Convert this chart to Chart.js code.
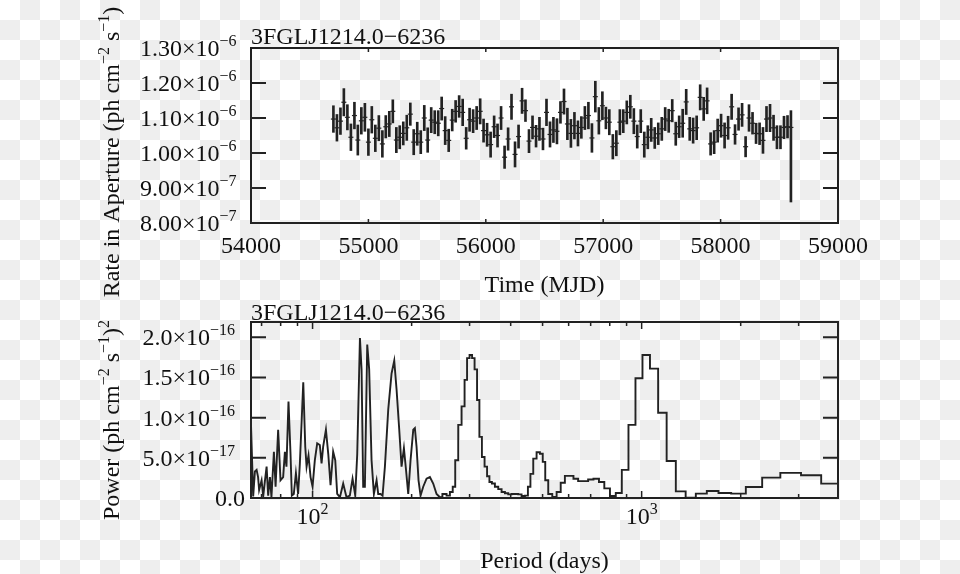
<!DOCTYPE html>
<html>
<head>
<meta charset="utf-8">
<script src="https://cdn.jsdelivr.net/npm/chart.js@4/dist/chart.umd.min.js"></script>
<style>
  html, body { margin: 0; padding: 0; }
  body {
    width: 960px; height: 574px; position: relative; overflow: hidden;
    background-color: #fff;
    background-image: conic-gradient(#eee 0 25%, #fff 0 50%, #eee 0 75%, #fff 0);
    background-size: 40px 40px;
  }
  canvas { position: absolute; left: 0; }
  #lc { top: 0; }
  #pg { top: 300px; }
</style>
</head>
<body>
<canvas id="lc" width="960" height="300"></canvas>
<canvas id="pg" width="960" height="274"></canvas>
<script>
const SOURCE = '3FGLJ1214.0\u22126236';

// light curve: bin centre (MJD), rate in units of 1e-6 ph cm^-2 s^-1, 1 sigma error
const mjd = [
  54702, 54732, 54762, 54791, 54821, 54851, 54881, 54910, 54940, 54970,
  55000, 55029, 55059, 55089, 55119, 55148, 55178, 55208, 55238, 55267,
  55297, 55327, 55357, 55386, 55416, 55446, 55476, 55505, 55535, 55565,
  55595, 55624, 55654, 55684, 55714, 55743, 55773, 55803, 55833, 55862,
  55892, 55922, 55952, 55981, 56011, 56041, 56071, 56100, 56130, 56160,
  56190, 56219, 56249, 56279, 56309, 56338, 56368, 56398, 56428, 56457,
  56487, 56517, 56547, 56576, 56606, 56636, 56666, 56695, 56725, 56755,
  56785, 56814, 56844, 56874, 56904, 56933, 56963, 56993, 57023, 57052,
  57082, 57112, 57142, 57171, 57201, 57231, 57261, 57290, 57320, 57350,
  57380, 57409, 57439, 57469, 57499, 57528, 57558, 57588, 57618, 57647,
  57677, 57707, 57737, 57766, 57796, 57826, 57856, 57885, 57915, 57945,
  57975, 58004, 58034, 58064, 58094, 58123, 58153, 58183, 58213, 58242,
  58272, 58302, 58332, 58361, 58391, 58421, 58451, 58480, 58510, 58540,
  58570, 58599
];
const rate = [
  1.097, 1.072, 1.091, 1.145, 1.102, 1.045, 1.107, 1.037, 1.092, 1.102,
  1.031, 1.095, 1.042, 1.071, 1.026, 1.075, 1.083, 1.119, 1.037, 1.045,
  1.056, 1.072, 1.111, 1.031, 1.055, 1.031, 1.100, 1.037, 1.094, 1.088,
  1.085, 1.127, 1.064, 1.036, 1.094, 1.119, 1.133, 1.116, 1.042, 1.095,
  1.091, 1.100, 1.119, 1.064, 1.052, 1.024, 1.075, 1.050, 1.100, 0.988,
  1.040, 1.132, 0.996, 1.047, 1.149, 1.121, 1.034, 1.073, 1.048, 1.069,
  1.040, 1.116, 1.053, 1.066, 1.062, 1.116, 1.147, 1.083, 1.056, 1.078,
  1.056, 1.073, 1.100, 1.107, 1.043, 1.161, 1.092, 1.135, 1.100, 1.088,
  1.018, 1.028, 1.088, 1.091, 1.116, 1.132, 1.091, 1.047, 1.091, 1.024,
  1.045, 1.066, 1.043, 1.055, 1.069, 1.097, 1.092, 1.121, 1.055, 1.075,
  1.085, 1.146, 1.069, 1.064, 1.072, 1.159, 1.126, 1.149, 1.026, 1.031,
  1.064, 1.078, 1.050, 1.072, 1.132, 1.053, 1.097, 1.109, 1.018, 1.100,
  1.085, 1.056, 1.055, 1.036, 1.097, 1.100, 1.072, 1.045, 1.045, 1.073,
  1.075, 1.073
];
const rateErr = [
  .038, .038, .038, .039, .036, .038, .038, .043, .038, .040,
  .038, .038, .038, .036, .038, .032, .036, .033, .036, .033,
  .033, .036, .032, .036, .033, .033, .036, .035, .036, .033,
  .036, .033, .040, .032, .031, .031, .031, .038, .031, .033,
  .033, .033, .036, .033, .033, .036, .031, .033, .033, .032,
  .032, .036, .036, .033, .036, .031, .033, .033, .031, .033,
  .031, .038, .036, .036, .036, .031, .036, .045, .040, .038,
  .036, .031, .033, .038, .041, .044, .038, .040, .031, .036,
  .035, .036, .036, .033, .033, .033, .036, .033, .033, .036,
  .033, .033, .030, .031, .033, .033, .033, .032, .033, .031,
  .040, .036, .033, .036, .034, .036, .033, .037, .032, .033,
  .033, .033, .036, .033, .036, .028, .032, .033, .029, .038,
  .031, .029, .031, .037, .036, .039, .036, .033, .033, .032,
  .032, .048
];
// the last (partial) bin has a much longer lower error bar
const rateErrDown = rateErr.slice(0, -1).concat([0.213]);

const mjdTicks = [54000, 55000, 56000, 57000, 58000, 59000];
const rateTicks = [0.8, 0.9, 1.0, 1.1, 1.2, 1.3];
const rateTickLabels = [['8.00', '\u22127'], ['9.00', '\u22127'], ['1.00', '\u22126'],
                        ['1.10', '\u22126'], ['1.20', '\u22126'], ['1.30', '\u22126']];

// periodogram: period (days), power in units of 1e-16 (ph cm^-2 s^-1)^2
const periods = [
  65.0, 66.0, 66.8, 67.6, 68.3, 68.8, 70.0, 70.8, 71.6, 72.5,
  73.3, 74.2, 75.0, 76.3, 77.2, 78.6, 79.9, 81.4, 82.4, 83.3,
  84.5, 85.7, 86.5, 87.7, 89.0, 90.4, 91.5, 93.7, 95.0, 95.9,
  97.2, 98.6, 100.0, 101.6, 103.3, 105.2, 106.5, 107.7, 109.8, 111.6,
  113.4, 115.5, 117.2, 118.8, 121.1, 123.9, 126.8, 129.8, 132.3, 134.8,
  136.7, 139.3, 140.9, 142.5, 144.2, 146.6, 148.6, 151.1, 153.6, 156.5,
  158.3, 160.9, 163.2, 165.9, 169.8, 173.8, 177.1, 180.0, 183.4, 186.4,
  189.5, 192.1, 195.3, 198.5, 202.3, 204.6, 207.0, 209.9, 212.9, 216.9,
  222.0, 227.3, 232.6, 238.1, 243.8,
  252.4, 258.4, 264.5, 268.8, 273.9, 280.4, 287.0, 292.4, 297.2, 302.8,
  307.8, 313.6, 318.7, 324.0, 330.1, 336.3, 341.9, 347.5, 354.0, 362.4,
  371.0, 379.7, 388.7, 397.8, 407.2, 416.8, 426.6, 436.7, 447.0, 455.5,
  463.0, 473.9, 485.1, 496.5, 504.7, 514.2, 526.3, 544.0, 559.4, 576.0,
  593.0, 611.3, 630.1, 652.5, 675.8, 699.8, 728.2, 755.9, 784.6, 818.2,
  851.3, 889.9, 934.6, 981.5, 1030.8, 1090.2, 1155.6, 1227.9, 1313.9, 1409.1,
  1514.8, 1643.6, 1783.5, 1962.5, 2189.9, 2466.7, 2824.1, 3294.3, 3745.3, 3951
];
const power = [
  0.91, 0.02, 0.33, 0.35, 0.26, 0.10, 0.22, 0.02, 0.20, 0.39,
  0.03, 0.26, 0.01, 0.575, 0.14, 0.85, 0.22, 0.26, 0.575, 0.39,
  1.20, 0.55, 0.03, 0.05, 0.31, 0.05, 0.43, 1.44, 0.64, 0.39,
  0.53, 0.26, 0.14, 0.47, 0.68, 0.66, 0.43, 0.64, 0.85, 0.55,
  0.16, 0.575, 0.47, 0.05, 0.01, 0.18, 0.01, 0.03, 0.24, 0.03,
  0.55, 1.99, 1.60, 0.14, 0.14, 1.91, 1.60, 0.47, 0.05, 0.22,
  0.05, 0.05, 0.03, 0.39, 1.10, 1.55, 1.71, 1.35, 0.85, 0.39,
  0.62, 0.37, 0.05, 0.47, 0.85, 0.87, 0.64, 0.22, 0.03, 0.14,
  0.24, 0.26, 0.18, 0.05, 0.01,
  0.05, 0.03, 0.075, 0.14, 0.47, 0.91, 1.14, 1.47, 1.74, 1.78,
  1.74, 1.60, 1.22, 0.76, 0.51, 0.39, 0.27, 0.20, 0.18, 0.14,
  0.11, 0.075, 0.06, 0.045, 0.05, 0.05, 0.045, 0.025, 0.03, 0.14,
  0.30, 0.49, 0.57, 0.55, 0.45, 0.22, 0.05, 0.0125, 0.075, 0.19,
  0.275, 0.275, 0.24, 0.21, 0.21, 0.23, 0.24, 0.20, 0.12, 0.025,
  0.0625, 0.35, 0.91, 1.49, 1.78, 1.61, 1.06, 0.46, 0.083, 0.005,
  0.054, 0.0875, 0.0625, 0.054, 0.1375, 0.254, 0.3125, 0.283, 0.179, 0.179
];
const STEP_FROM = 84; // from here on the frequency bins are wide enough to show as steps

const powerTicks = [0, 0.5, 1.0, 1.5, 2.0];
const powerTickLabels = [['0.0', ''], ['5.0', '\u221217'], ['1.0', '\u221216'],
                         ['1.5', '\u221216'], ['2.0', '\u221216']];
const periodMajor = [100, 1000];
const periodMajorExp = ['2', '3'];
const periodMinor = [70, 80, 90, 200, 300, 400, 500, 600, 700, 800, 900, 2000, 3000];

const INK = '#222';
const FONT = '"Liberation Serif", "Times New Roman", serif';
const SIZE = 24, SUP = 16, RISE = 10;

function drawRich(ctx, parts, x, y, align) {
  let w = 0;
  parts.forEach(([t, sup]) => { ctx.font = (sup ? SUP : SIZE) + 'px ' + FONT; w += ctx.measureText(t).width; });
  let cx = align === 'right' ? x - w : align === 'center' ? x - w / 2 : x;
  ctx.textAlign = 'left';
  ctx.textBaseline = 'alphabetic';
  parts.forEach(([t, sup]) => {
    ctx.font = (sup ? SUP : SIZE) + 'px ' + FONT;
    ctx.fillText(t, cx, sup ? y - RISE : y);
    cx += ctx.measureText(t).width;
  });
}

function drawFrame(ctx, a) {
  ctx.strokeStyle = INK;
  ctx.lineWidth = 2;
  ctx.strokeRect(a.left, a.top, a.right - a.left, a.bottom - a.top);
}
function yMark(ctx, a, py, len) {
  ctx.lineWidth = 2;
  ctx.beginPath();
  ctx.moveTo(a.left, py); ctx.lineTo(a.left + len, py);
  ctx.moveTo(a.right, py); ctx.lineTo(a.right - len, py);
  ctx.stroke();
}
function xMark(ctx, a, px, len) {
  ctx.lineWidth = 1.5;
  ctx.beginPath();
  ctx.moveTo(px, a.top); ctx.lineTo(px, a.top + len);
  ctx.moveTo(px, a.bottom); ctx.lineTo(px, a.bottom - len);
  ctx.stroke();
}
function yTitle(ctx, parts, x, y) {
  ctx.save();
  ctx.translate(x, y);
  ctx.rotate(-Math.PI / 2);
  drawRich(ctx, parts, 0, 0, 'center');
  ctx.restore();
}

const lcDecor = {
  id: 'lcDecor',
  afterDraw(chart) {
    const { ctx, chartArea: a, scales: { x, y } } = chart;
    ctx.save();
    drawFrame(ctx, a);
    rateTicks.slice(1, -1).forEach(v => yMark(ctx, a, y.getPixelForValue(v), 15));
    mjdTicks.slice(1, -1).forEach(v => xMark(ctx, a, x.getPixelForValue(v), 4));
    ctx.fillStyle = '#111';
    rateTicks.forEach((v, i) => {
      const [m, e] = rateTickLabels[i];
      drawRich(ctx, [[m + '\u00d710', false], [e, true]], 236.5, y.getPixelForValue(v) + 8, 'right');
    });
    mjdTicks.forEach(v => drawRich(ctx, [[String(v), false]], x.getPixelForValue(v), 253, 'center'));
    drawRich(ctx, [[SOURCE, false]], a.left, a.top - 4, 'left');
    drawRich(ctx, [['Time (MJD)', false]], (a.left + a.right) / 2, 292, 'center');
    yTitle(ctx, [['Rate in Aperture (ph cm', false], ['\u22122', true], [' s', false],
                 ['\u22121', true], [')', false]], 119, 152);
    ctx.restore();
  }
};

const pgDecor = {
  id: 'pgDecor',
  afterDraw(chart) {
    const { ctx, chartArea: a, scales: { x, y } } = chart;
    ctx.save();
    drawFrame(ctx, a);
    powerTicks.slice(1).forEach(v => yMark(ctx, a, y.getPixelForValue(v), 15));
    periodMinor.forEach(v => xMark(ctx, a, x.getPixelForValue(v), 4));
    periodMajor.forEach(v => xMark(ctx, a, x.getPixelForValue(v), 7));
    ctx.fillStyle = '#111';
    powerTicks.forEach((v, i) => {
      const [m, e] = powerTickLabels[i];
      if (e) drawRich(ctx, [[m + '\u00d710', false], [e, true]], 235, y.getPixelForValue(v) + 8, 'right');
      else drawRich(ctx, [[m, false]], 245, y.getPixelForValue(v) + 8, 'right');
    });
    periodMajor.forEach((v, i) =>
      drawRich(ctx, [['10', false], [periodMajorExp[i], true]], x.getPixelForValue(v), 224, 'center'));
    drawRich(ctx, [[SOURCE, false]], a.left, a.top - 2, 'left');
    drawRich(ctx, [['Period (days)', false]], (a.left + a.right) / 2, 268, 'center');
    yTitle(ctx, [['Power (ph cm', false], ['\u22122', true], [' s', false],
                 ['\u22121', true], [')', false], ['2', true]], 119, 120);
    ctx.restore();
  }
};

const common = {
  responsive: false,
  animation: false,
  devicePixelRatio: 1,
  events: [],
  plugins: { legend: { display: false }, tooltip: { enabled: false } },
};

new Chart(document.getElementById('lc').getContext('2d'), {
  type: 'bar',
  data: {
    datasets: [
      {
        type: 'bar',
        data: mjd.map((t, i) => ({ x: t, y: [rate[i] - rateErrDown[i], rate[i] + rateErr[i]] })),
        backgroundColor: INK,
        borderWidth: 0,
        barThickness: 2,
      },
      {
        type: 'scatter',
        data: mjd.map((t, i) => ({ x: t, y: rate[i] })),
        pointStyle: 'line',
        radius: 2.5,
        borderColor: INK,
        borderWidth: 1.2,
      },
    ]
  },
  options: {
    ...common,
    layout: { padding: { left: 251, top: 48, right: 122, bottom: 77 } },
    scales: {
      x: { type: 'linear', min: 54000, max: 59000, offset: false, display: false },
      y: { type: 'linear', min: 0.8, max: 1.3, display: false },
    },
  },
  plugins: [lcDecor],
});

new Chart(document.getElementById('pg').getContext('2d'), {
  type: 'line',
  data: {
    datasets: [
      {
        data: periods.slice(0, STEP_FROM + 1).map((p, i) => ({ x: p, y: power[i] })),
        borderColor: INK,
        borderWidth: 1.9,
        pointRadius: 0,
        tension: 0,
      },
      {
        data: periods.slice(STEP_FROM).map((p, i) => ({ x: p, y: power[STEP_FROM + i] })),
        borderColor: INK,
        borderWidth: 1.9,
        pointRadius: 0,
        stepped: 'middle',
      },
    ]
  },
  options: {
    ...common,
    layout: { padding: { left: 251, top: 22, right: 122, bottom: 76 } },
    scales: {
      x: { type: 'logarithmic', min: 65, max: 3951, display: false },
      y: { type: 'linear', min: 0, max: 2.19, display: false },
    },
  },
  plugins: [pgDecor],
});
</script>
</body>
</html>
